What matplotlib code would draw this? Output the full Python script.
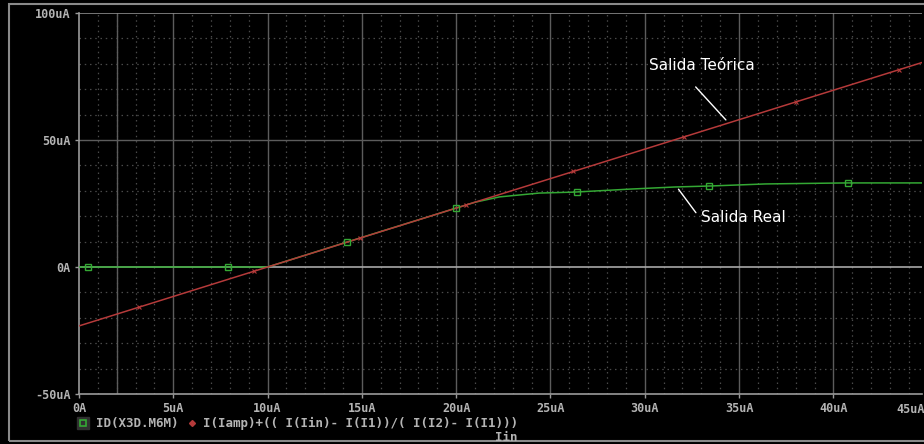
import matplotlib
matplotlib.use("Agg")
import matplotlib.pyplot as plt
from matplotlib.patches import Rectangle
from matplotlib.lines import Line2D

# ---------------- data (uA) ----------------
teo_x = [0, 10, 20, 30, 40, 44.7]
teo_y = [-23.2, 0, 23.2, 46.4, 69.6, 80.5]
teo_mk_x = [3.2, 9.3, 14.9, 20.5, 26.2, 32.1, 38.0, 43.5]
teo_mk_y = [-15.8, -1.6, 11.4, 24.4, 37.6, 51.3, 64.9, 77.7]

real_x = [0, 8, 10, 14.2, 20, 21, 22.3, 24.4, 26.3, 29.3, 31.6, 33.5, 36.4, 40.7, 44.7]
real_y = [0, 0, 0, 9.8, 23.2, 25.5, 27.6, 29.1, 29.5, 30.7, 31.5, 31.9, 32.7, 33.1, 33.1]
real_mk_x = [0.5, 7.9, 14.2, 20.0, 26.4, 33.4, 40.8]
real_mk_y = [0, 0, 9.8, 23.2, 29.5, 31.9, 33.1]

xticks = [0, 5, 10, 15, 20, 25, 30, 35, 40]
xticklabels = ["0A", "5uA", "10uA", "15uA", "20uA", "25uA", "30uA", "35uA", "40uA"]
yticks = [-50, 0, 50, 100]
yticklabels = ["-50uA", "0A", "50uA", "100uA"]

legend_real = "ID(X3D.M6M)"
legend_teo = "I(Iamp)+(( I(Iin)- I(I1))/( I(I2)- I(I1)))"
xlabel = "Iin"

# ---------------- style ----------------
W, H = 924, 444
fig = plt.figure(figsize=(W / 100, H / 100), dpi=100, facecolor="black")
ax = fig.add_axes([79 / W, 1 - 394 / H, (922 - 79) / W, (394 - 13) / H])
ax.set_facecolor("black")
ax.set_xlim(0, 44.7)
ax.set_ylim(-50, 100)

mono = dict(family="DejaVu Sans Mono", weight="bold", size=8.5)
mono_leg = dict(family="DejaVu Sans Mono", weight="bold", size=9)
lab_col = "#b4b4b4"
major_col = "#5c5c5c"
minor_col = "#4a4a4a"

# minor dotted grid
for xv in range(1, 45):
    if xv % 5 != 0:
        ax.axvline(xv, color=minor_col, lw=0.9, ls=(0, (1.2, 3)), zorder=1)
for yv in range(-40, 100, 10):
    if yv % 50 != 0:
        ax.axhline(yv, color=minor_col, lw=0.9, ls=(0, (1.2, 3)), zorder=1)
# major grid
for xv in xticks[1:]:
    ax.axvline(xv, color=major_col, lw=1, zorder=1)
ax.axvline(2, color=major_col, lw=1, zorder=1)
ax.axhline(50, color=major_col, lw=1, zorder=1)
ax.axhline(100, color="#8a8a8a", lw=1.2, zorder=1)
ax.axhline(0, color="#a8a8a8", lw=1.2, zorder=2)

for s in ["top", "right"]:
    ax.spines[s].set_visible(False)
for s in ["left", "bottom"]:
    ax.spines[s].set_color("#9a9a9a")
    ax.spines[s].set_linewidth(1.2)

ax.set_xticks(xticks)
ax.set_xticklabels(xticklabels, fontdict=mono)
ax.set_yticks(yticks)
ax.set_yticklabels(yticklabels, fontdict=mono)
ax.tick_params(axis="both", colors="#9a9a9a", length=3, width=1, pad=3)
for t in ax.get_xticklabels() + ax.get_yticklabels():
    t.set_color(lab_col)
ax.text(44.1, -53.4, "45uA", ha="center", va="top", color=lab_col,
        clip_on=False, **mono)

# series
green = "#34a834"
red = "#b53a3a"
ax.plot(teo_x, teo_y, color=red, lw=1.1, zorder=4)
ax.plot(teo_mk_x, teo_mk_y, ls="none", marker="x", ms=3, mew=0.8, color=red, zorder=4)
ax.plot(real_x, real_y, color=green, lw=1.1, zorder=3)
ax.plot(real_mk_x, real_mk_y, ls="none", marker="s", ms=5, mfc="none", mec=green,
        mew=1, zorder=5, clip_on=False)

# annotations
ann = dict(family="DejaVu Sans", size=11, color="white")
ax.text(30.2, 79.5, "Salida Teórica", va="center", ha="left", **ann)
ax.annotate("", xy=(34.4, 57.1), xytext=(32.6, 71.7),
            arrowprops=dict(arrowstyle="-", color="white", lw=1))
ax.text(33.0, 19.3, "Salida Real", va="center", ha="left", **ann)
ax.annotate("", xy=(32.8, 20.5), xytext=(31.7, 31.5),
            arrowprops=dict(arrowstyle="-", color="white", lw=1))

# legend row
def fx(px):
    return px / W

def fy(py):
    return 1 - py / H

ly = 423
fig.add_artist(Line2D([fx(83)], [fy(ly)], ls="none", marker="s", ms=9,
                      mfc="#303030", mec="#303030"))
fig.add_artist(Line2D([fx(83)], [fy(ly)], ls="none", marker="s", ms=5,
                      mfc="none", mec=green, mew=1.2))
fig.text(fx(96), fy(ly), legend_real, ha="left", va="center", color=lab_col, **mono_leg)
fig.add_artist(Line2D([fx(192)], [fy(ly)], ls="none", marker="D", ms=3,
                      mfc=red, mec=red))
fig.text(fx(203), fy(ly), legend_teo, ha="left", va="center", color=lab_col, **mono_leg)
fig.text(fx(506), fy(437), xlabel, ha="center", va="center", color=lab_col, **mono_leg)

# outer frame
fig.add_artist(Rectangle((fx(9), fy(441)), fx(930) - fx(9), fy(4) - fy(441),
                         transform=fig.transFigure, fill=False,
                         edgecolor="#8a8a8a", lw=1.5))

fig.savefig("out.png", dpi=100, facecolor="black")
